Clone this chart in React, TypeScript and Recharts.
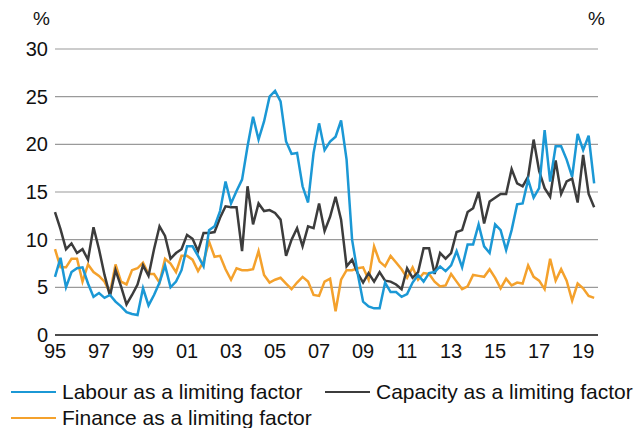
import { LineChart, Line, XAxis, YAxis, CartesianGrid, ReferenceLine } from "recharts";

// quarterly survey balances, 1995 Q1 – 2019 Q3
const labour = [
  6.1, 8.1, 5.0, 6.6, 7.0, 7.1, 5.4, 4.0, 4.4, 3.9, 4.2, 3.5, 3.0, 2.4, 2.2, 2.1,
  4.9, 3.1, 4.2, 5.5, 7.3, 5.0, 5.6, 6.8, 9.3, 9.3, 8.3, 7.2, 11.0, 11.4, 13.0, 16.1,
  13.8, 15.1, 16.3, 19.8, 22.9, 20.5, 22.4, 25.0, 25.6, 24.5, 20.3, 19.0, 19.1, 15.6, 13.9, 19.1,
  22.2, 19.4, 20.3, 20.8, 22.5, 18.4, 10.0, 6.5, 3.5, 3.0, 2.8, 2.8, 5.5, 4.5, 4.5, 4.0,
  4.3, 5.5, 6.3, 5.6, 6.5, 6.6, 7.2, 6.7, 7.3, 8.8, 7.1, 9.5, 9.5, 11.6, 9.3, 8.6,
  11.6, 11.0, 8.9, 11.0, 13.7, 13.8, 16.3, 14.4, 15.4, 21.5, 16.1, 19.8, 19.8, 18.4, 16.6, 21.1,
  19.4, 20.9, 15.9,
];

const capacity = [
  12.9, 11.1, 9.0, 9.6, 8.6, 9.0, 7.9, 11.3, 9.0, 6.3, 4.1, 6.8, 5.1, 3.2, 4.2, 5.3,
  7.3, 6.2, 9.0, 11.4, 10.4, 8.0, 8.6, 9.0, 10.5, 10.1, 8.8, 10.7, 10.7, 10.8, 12.3, 13.5,
  13.4, 13.4, 8.8, 15.6, 11.6, 13.8, 13.0, 13.1, 12.8, 12.1, 8.3, 10.0, 11.2, 9.3, 11.4, 11.2,
  13.8, 10.9, 12.4, 14.5, 12.1, 7.2, 7.9, 6.5, 5.5, 6.5, 5.6, 6.6, 5.7, 5.6, 5.3, 4.8,
  7.0, 6.0, 6.6, 9.1, 9.1, 6.4, 8.6, 8.0, 8.6, 10.8, 11.0, 12.9, 13.3, 15.0, 11.7, 14.0,
  14.4, 14.8, 14.8, 17.4, 15.9, 15.6, 16.6, 20.5, 17.2, 15.4, 14.5, 18.3, 14.8, 16.1, 16.4, 13.9,
  18.9, 14.8, 13.4,
];

const finance = [
  9.0, 7.1, 7.1, 8.0, 8.0, 5.6, 7.4, 6.6, 6.2, 5.6, 4.4, 7.4, 5.6, 5.3, 6.8, 7.0,
  7.6, 6.4, 6.4, 5.5, 8.0, 7.5, 6.6, 8.3, 8.3, 7.9, 6.7, 7.7, 9.8, 8.2, 8.3, 6.9,
  5.8, 7.0, 6.8, 6.8, 6.9, 8.8, 6.3, 5.5, 5.8, 6.0, 5.4, 4.8, 5.5, 6.1, 5.6, 4.2,
  4.1, 5.6, 5.9, 2.5, 5.8, 6.8, 6.8, 7.0, 7.1, 5.8, 9.3, 7.7, 7.2, 8.3, 7.6, 6.9,
  6.0, 7.1, 5.8, 6.5, 6.4, 5.6, 5.1, 5.2, 6.4, 5.6, 4.8, 5.1, 6.3, 6.2, 6.1, 6.9,
  6.0, 4.9, 5.9, 5.2, 5.5, 5.4, 7.3, 6.1, 5.7, 4.8, 8.0, 5.7, 6.9, 5.7, 3.6, 5.4,
  4.9, 4.1, 3.9,
];

const yearLabels = ["95", "97", "99", "01", "03", "05", "07", "09", "11", "13", "15", "17", "19"];
const yTicks = [0, 5, 10, 15, 20, 25, 30];

const BLUE = "#1b98d5";
const DARK = "#3c3c3c";
const ORANGE = "#f4a12c";
const FONT = "'Liberation Sans', Arial, sans-serif";

const data = labour.map((v, i) => ({
  q: i,
  labour: v,
  capacity: capacity[i],
  finance: finance[i],
}));

const tickStyle = { fontSize: 20, fill: "#111", fontFamily: FONT };

const LegendItem = ({ color, label, left, top }: { color: string; label: string; left: number; top: number }) => (
  <div style={{ position: "absolute", left, top, display: "flex", alignItems: "center", whiteSpace: "nowrap" }}>
    <span style={{ display: "inline-block", width: 45, height: 2.5, background: color, marginRight: 6 }} />
    <span style={{ fontSize: 21, color: "#111", fontFamily: FONT, lineHeight: "24px" }}>{label}</span>
  </div>
);

export default function App() {
  return (
    <div style={{ position: "absolute", left: 0, top: 0, width: 641, height: 428, background: "#fff" }}>
      <LineChart
        width={641}
        height={428}
        data={data}
        margin={{ top: 49, right: 0, bottom: 63, left: 0 }}
      >
        <CartesianGrid vertical={false} stroke="#9a9a9a" strokeWidth={1.2} yAxisId="left" />
        <XAxis
          dataKey="q"
          type="number"
          domain={[0, 98.7]}
          ticks={yearLabels.map((_, k) => k * 8)}
          tickFormatter={(v: number) => yearLabels[Math.round(v / 8)]}
          axisLine={false}
          tickLine={false}
          tickSize={0}
          tickMargin={9}
          height={30}
          tick={tickStyle}
          interval={0}
        />
        <YAxis
          yAxisId="left"
          domain={[0, 30]}
          ticks={yTicks}
          axisLine={false}
          tickLine={false}
          tickSize={0}
          tickMargin={7}
          width={55}
          tick={tickStyle}
          interval={0}
        />
        <YAxis
          yAxisId="right"
          orientation="right"
          domain={[0, 30]}
          ticks={yTicks}
          axisLine={false}
          tickLine={false}
          tickSize={0}
          tickMargin={9}
          width={43}
          tick={{ ...tickStyle, textAnchor: "start" }}
          interval={0}
        />
        <ReferenceLine yAxisId="left" y={0} stroke="#222" strokeWidth={1.6} />
        <Line yAxisId="left" type="linear" dataKey="finance" stroke={ORANGE} strokeWidth={2.5} dot={false} isAnimationActive={false} />
        <Line yAxisId="left" type="linear" dataKey="capacity" stroke={DARK} strokeWidth={2.5} dot={false} isAnimationActive={false} />
        <Line yAxisId="left" type="linear" dataKey="labour" stroke={BLUE} strokeWidth={2.5} dot={false} isAnimationActive={false} />
      </LineChart>
      <div style={{ position: "absolute", left: 33, top: 8, fontSize: 19, fontFamily: FONT, color: "#111" }}>%</div>
      <div style={{ position: "absolute", left: 588, top: 8, fontSize: 19, fontFamily: FONT, color: "#111" }}>%</div>
      <LegendItem color={BLUE} label="Labour as a limiting factor" left={11} top={380} />
      <LegendItem color={DARK} label="Capacity as a limiting factor" left={325} top={380} />
      <LegendItem color={ORANGE} label="Finance as a limiting factor" left={11} top={406} />
    </div>
  );
}
